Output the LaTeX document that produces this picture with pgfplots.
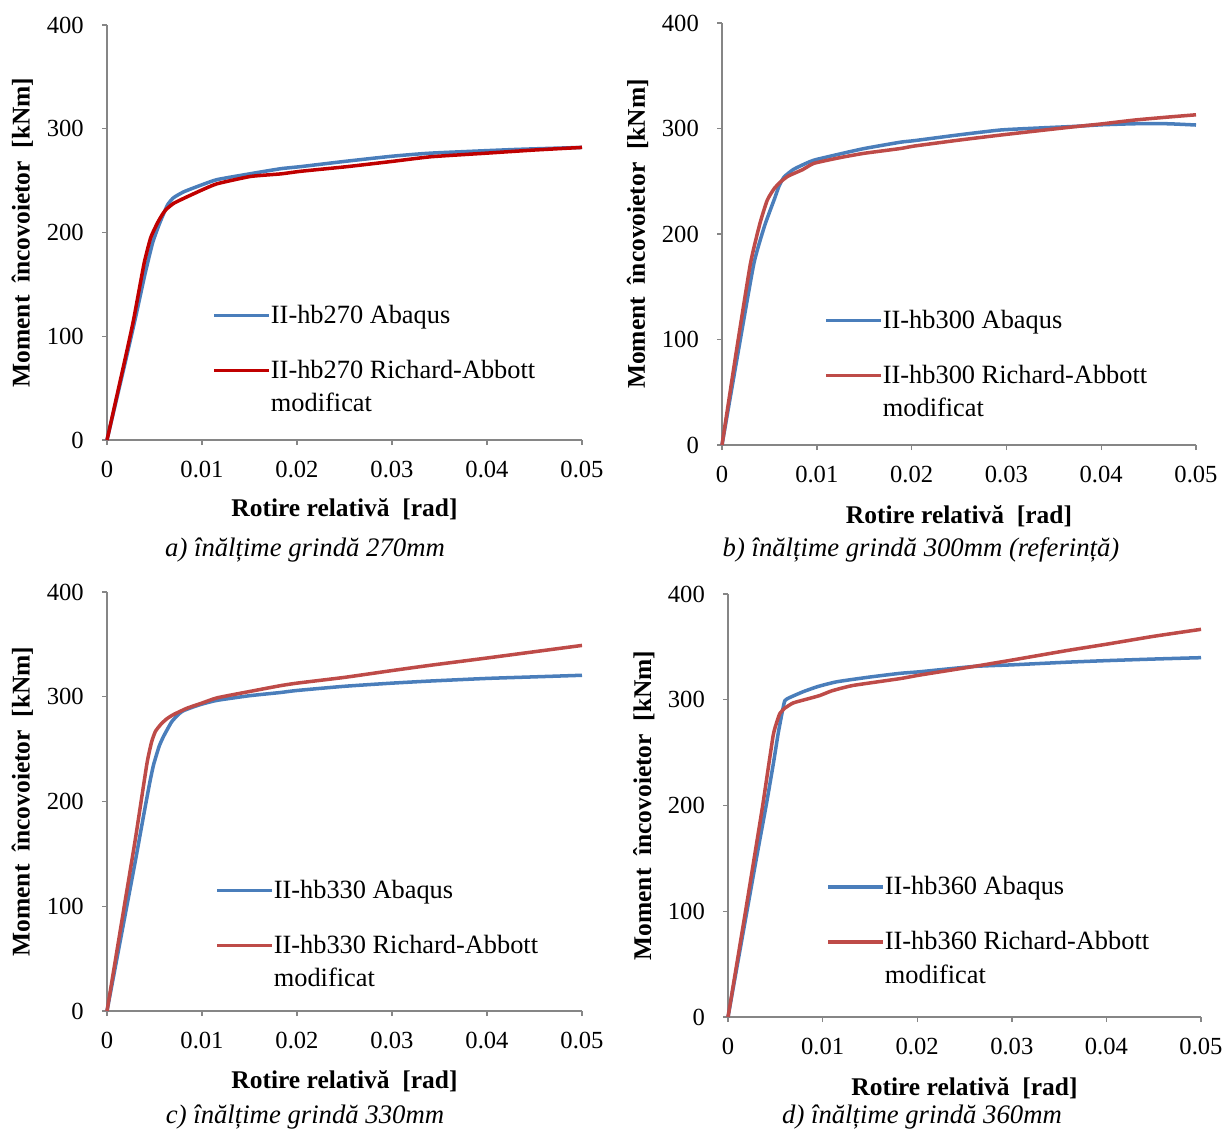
\documentclass[border=0pt]{standalone}
\usepackage{fontspec}
\setmainfont{Liberation Serif}
\usepackage{pgfplots}
\pgfplotsset{compat=1.18}
\definecolor{cblue}{RGB}{74,126,187}
\definecolor{cred}{RGB}{190,75,72}
\definecolor{cdred}{RGB}{192,0,0}
\definecolor{axgray}{RGB}{134,134,134}
\pgfplotsset{
  panel/.style={
    scale only axis,
    xmin=0, xmax=0.05, ymin=0, ymax=400,
    scaled x ticks=false, scaled y ticks=false,
    axis lines*=left,
    axis line style={axgray, line width=0.8pt},
    tick style={axgray, line width=0.8pt},
    tick align=outside, major tick length=0.1cm,
    xtick={0,0.01,0.02,0.03,0.04,0.05},
    xticklabels={0,0.01,0.02,0.03,0.04,0.05},
    ytick={0,100,200,300,400},
    yticklabels={0,100,200,300,400},
    ticklabel style={font=\fontsize{14}{16}\selectfont, text=black},
    xticklabel style={yshift=-0.2cm},
    yticklabel style={xshift=-0.24cm},
    xlabel={Rotire relativă\ \ [rad]},
    ylabel={Moment\ \ încovoietor\ \ [kNm]},
    label style={font=\bfseries\fontsize{14.5}{17}\selectfont},
    xlabel style={at={(axis description cs:0.5,-0.168)}, anchor=center},
    ylabel style={at={(axis description cs:-0.178,0.5)}, anchor=center},
    clip=false,
    legend image code/.code={\draw[#1, line width=2pt] (0cm,4.5pt) -- (1.1cm,4.5pt);},
    legend style={draw=none, fill=none, inner sep=0pt, outer sep=0pt,
      column sep=0pt, row sep=16.5pt, anchor=north west,
      nodes={inner sep=0pt, anchor=base west, font=\fontsize{15}{19}\selectfont}},
  },
  cb/.style={cblue, line width=2pt, smooth, tension=0.3},
  cr/.style={cred, line width=2pt, smooth, tension=0.3},
}
\newcommand{\twol}[1]{\begin{tabular}[t]{@{}l@{}}#1\end{tabular}}
\begin{document}
\begin{tikzpicture}
\useasboundingbox (0,0) rectangle (24.52,22.62);
% ---------- a ----------
\begin{axis}[panel, at={(2.14cm,13.82cm)}, anchor=south west, width=9.50cm, height=8.30cm,
  legend style={at={(axis cs:0.0111,130)}}]
\addplot[cb] coordinates {(0,0)(0.001,39)(0.002,78)(0.003,118)(0.004,160)(0.0048,190)(0.0055,208)(0.006,219)(0.0064,227)(0.007,233.5)(0.0081,239.3)(0.01,246)(0.0116,251)(0.015,256.5)(0.0183,261.5)(0.0204,263.5)(0.025,268.5)(0.03,273.5)(0.0341,276.5)(0.0429,280)(0.05,282)};
\addlegendentry{II-hb270 Abaqus}
\addplot[cdred, line width=2pt, smooth, tension=0.3] coordinates {(0,0)(0.001,41)(0.002,82)(0.0028,116)(0.0039,170)(0.0046,195)(0.0053,209)(0.0058,217)(0.0062,222)(0.007,228)(0.0081,233)(0.01,241)(0.0116,247)(0.0151,254)(0.0183,256.5)(0.0204,259)(0.0253,263.5)(0.03,268.5)(0.0341,273)(0.04,276.5)(0.045,279.5)(0.05,282)};
\addlegendentry{\twol{II-hb270 Richard-Abbott\\modificat}}
\end{axis}
% ---------- b ----------
\begin{axis}[panel, at={(14.44cm,13.72cm)}, anchor=south west, width=9.48cm, height=8.44cm,
  legend style={at={(axis cs:0.0108,128)}}]
\addplot[cb] coordinates {(0,0)(0.0017,88)(0.00336,172)(0.0045,208)(0.00548,232)(0.006,245)(0.00654,254)(0.0075,261)(0.0085,265.5)(0.0097,270)(0.0125,276)(0.015,281)(0.0188,287)(0.0203,288.5)(0.025,294)(0.0294,298.6)(0.0335,300.5)(0.0372,302)(0.04,303.5)(0.0435,304.5)(0.047,304.5)(0.05,303.3)};
\addlegendentry{II-hb300 Abaqus}
\addplot[cr] coordinates {(0,0)(0.0015,88)(0.003,172)(0.004,210)(0.00477,232)(0.0055,243)(0.0062,249.6)(0.007,255)(0.0085,261)(0.0097,267)(0.0125,272.5)(0.015,276.5)(0.0188,281)(0.0203,283.4)(0.025,289)(0.0294,293.8)(0.0335,298)(0.0372,301.7)(0.04,304.3)(0.0435,308)(0.047,310.8)(0.05,313)};
\addlegendentry{\twol{II-hb300 Richard-Abbott\\modificat}}
\end{axis}
% ---------- c ----------
\begin{axis}[panel, at={(2.14cm,2.40cm)}, anchor=south west, width=9.50cm, height=8.38cm,
  legend style={at={(axis cs:0.0114,124.8)}}]
\addplot[cb] coordinates {(0,0)(0.001,48)(0.002,96)(0.003,144)(0.00384,186)(0.0045,218)(0.0049,235)(0.0055,253)(0.006,263)(0.0068,276)(0.0075,283)(0.008,286.5)(0.009,290)(0.01,293)(0.0116,296.6)(0.015,301)(0.0182,304)(0.02,306)(0.025,310)(0.03,313)(0.034,315)(0.04,317.5)(0.045,319)(0.05,320.5)};
\addlegendentry{II-hb330 Abaqus}
\addplot[cr] coordinates {(0,0)(0.001,55)(0.002,110)(0.003,165)(0.0042,236)(0.0047,257)(0.0051,267)(0.0057,274)(0.0063,279)(0.007,283)(0.0084,289)(0.01,294)(0.0116,299)(0.015,305)(0.0182,310.5)(0.02,313)(0.025,318.5)(0.03,325)(0.034,330)(0.04,337)(0.045,343)(0.05,349)};
\addlegendentry{\twol{II-hb330 Richard-Abbott\\modificat}}
\end{axis}
% ---------- d ----------
\begin{axis}[panel, at={(14.56cm,2.28cm)}, anchor=south west, width=9.46cm, height=8.46cm,
  legend style={at={(axis cs:0.0104,132.7)}}]
\addplot[cb] coordinates {(0,0)(0.001,50)(0.002,100)(0.003,150)(0.00407,202)(0.0048,240)(0.0053,268)(0.0057,287)(0.006,299)(0.0065,302)(0.00794,307.6)(0.0095,312.5)(0.0115,317)(0.015,321.5)(0.0182,325)(0.0203,326.5)(0.026,331.5)(0.03,333)(0.0358,335.5)(0.04,337)(0.045,338.5)(0.05,339.8)};
\addlegendentry{II-hb360 Abaqus}
\addplot[cr] coordinates {(0,0)(0.001,54)(0.002,108)(0.003,163)(0.0037,202)(0.00477,266)(0.0052,280)(0.00548,287)(0.006,292)(0.00689,297)(0.0085,301)(0.0097,304)(0.011,308.5)(0.0132,313.5)(0.0182,320)(0.0203,323.4)(0.026,331.5)(0.03,337.5)(0.0358,346.5)(0.04,352.5)(0.045,360)(0.05,366.6)};
\addlegendentry{\twol{II-hb360 Richard-Abbott\\modificat}}
\end{axis}
% ---------- captions ----------
\begin{scope}[every node/.style={font=\itshape\fontsize{15.2}{18}\selectfont, inner sep=0pt}]
\node at (6.10,11.62) {a) înălțime grindă 270mm};
\node at (18.42,11.62) {b) înălțime grindă 300mm (referință)};
\node at (6.10,0.28) {c) înălțime grindă 330mm};
\node at (18.44,0.28) {d) înălțime grindă 360mm};
\end{scope}
\end{tikzpicture}
\end{document}
